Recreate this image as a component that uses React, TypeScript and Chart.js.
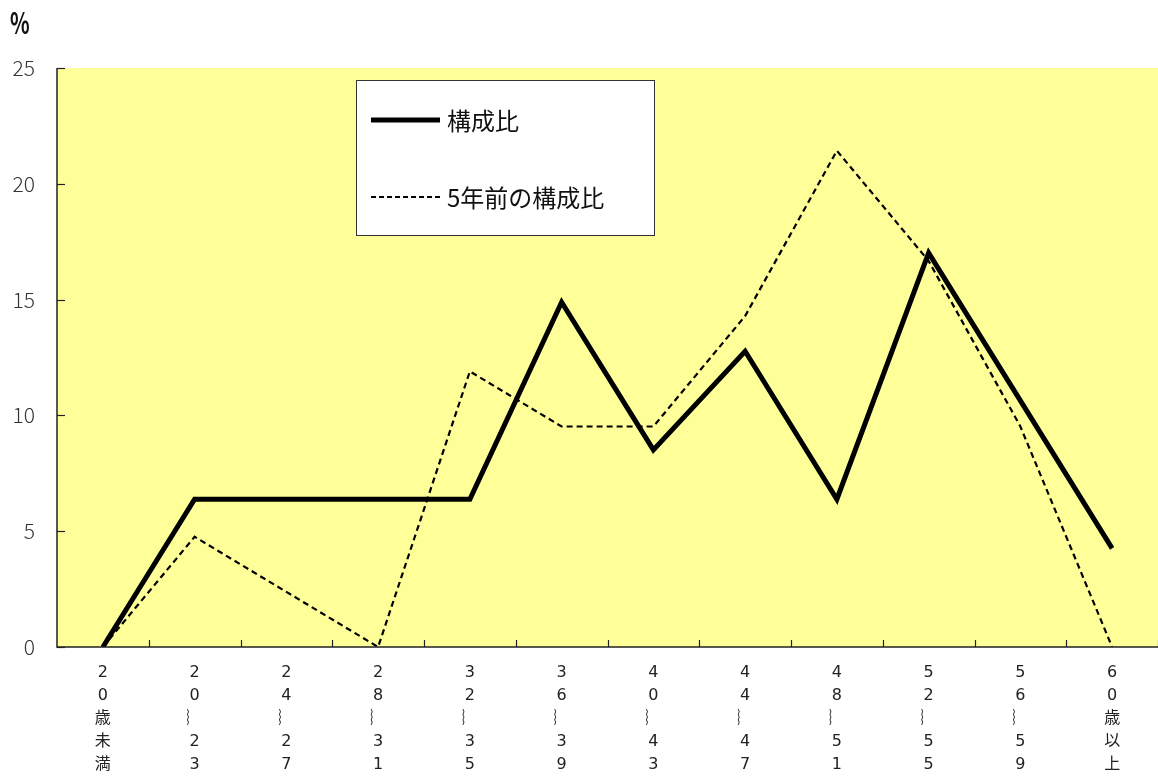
import React, { useEffect, useRef } from "react";
import { Chart, registerables } from "chart.js";

Chart.register(...registerables);

const W = "︴";
const categories: string[][] = [
  ["2", "0", "歳", "未", "満"],
  ["2", "0", W, "2", "3"],
  ["2", "4", W, "2", "7"],
  ["2", "8", W, "3", "1"],
  ["3", "2", W, "3", "5"],
  ["3", "6", W, "3", "9"],
  ["4", "0", W, "4", "3"],
  ["4", "4", W, "4", "7"],
  ["4", "8", W, "5", "1"],
  ["5", "2", W, "5", "5"],
  ["5", "6", W, "5", "9"],
  ["6", "0", "歳", "以", "上"],
];

const currentShare: number[] = [0, 6.38, 6.38, 6.38, 6.38, 14.89, 8.51, 12.77, 6.38, 17.02, 10.64, 4.26];
const previousShare: number[] = [0, 4.76, 2.38, 0, 11.9, 9.52, 9.52, 14.29, 21.43, 16.67, 9.52, 0];

const seriesLabels = ["構成比", "5年前の構成比"];
const yTicks = [0, 5, 10, 15, 20, 25];
const unitLabel = "%";

const FONT = "'Noto Sans CJK JP', 'DejaVu Sans', sans-serif";
const XFONT = "'DejaVu Sans', 'Noto Sans CJK JP', sans-serif";

const decorPlugin = {
  id: "decor",
  beforeDraw(chart: any) {
    const { ctx, chartArea } = chart;
    ctx.save();
    ctx.fillStyle = "#FFFF99";
    ctx.fillRect(chartArea.left, chartArea.top, chartArea.right - chartArea.left, chartArea.bottom - chartArea.top);
    ctx.restore();
  },
  afterDatasetsDraw(chart: any) {
    const { ctx, chartArea, scales } = chart;
    const x = scales.x;
    const y = scales.y;
    ctx.save();
    ctx.strokeStyle = "#222";
    ctx.lineWidth = 1.5;
    ctx.beginPath();
    ctx.moveTo(chartArea.left, chartArea.top);
    ctx.lineTo(chartArea.left, chartArea.bottom);
    ctx.lineTo(chartArea.right + 2, chartArea.bottom);
    ctx.stroke();
    ctx.lineWidth = 1.2;
    yTicks.forEach((v) => {
      const py = Math.round(y.getPixelForValue(v)) + 0.5;
      ctx.beginPath();
      ctx.moveTo(chartArea.left, py);
      ctx.lineTo(chartArea.left + 8, py);
      ctx.stroke();
    });
    const n = categories.length;
    const step = x.getPixelForValue(1) - x.getPixelForValue(0);
    for (let i = 1; i <= n; i++) {
      const px = Math.round(x.getPixelForValue(i - 1) + step / 2) + 0.5;
      ctx.beginPath();
      ctx.moveTo(px, chartArea.bottom);
      ctx.lineTo(px, chartArea.bottom - 7);
      ctx.stroke();
    }
    ctx.restore();
  },
  afterDraw(chart: any) {
    const { ctx } = chart;
    ctx.save();
    ctx.fillStyle = "#111";
    ctx.font = `bold 30px ${FONT}`;
    ctx.textBaseline = "middle";
    ctx.textAlign = "left";
    ctx.translate(10, 23);
    ctx.scale(0.68, 1);
    ctx.fillText(unitLabel, 0, 0);
    ctx.restore();

    ctx.save();
    const bx = 356.5, by = 80.5, bw = 298, bh = 155;
    ctx.fillStyle = "#FFFFFF";
    ctx.fillRect(bx, by, bw, bh);
    ctx.strokeStyle = "#333";
    ctx.lineWidth = 1;
    ctx.strokeRect(bx, by, bw, bh);
    const ds = chart.data.datasets;
    const rows = [120, 197];
    ds.forEach((d: any, i: number) => {
      const ry = rows[i];
      ctx.strokeStyle = "#000";
      ctx.lineWidth = i === 0 ? 5 : 2;
      ctx.setLineDash(i === 0 ? [] : [5, 3]);
      ctx.beginPath();
      ctx.moveTo(371, ry);
      ctx.lineTo(440, ry);
      ctx.stroke();
      ctx.setLineDash([]);
      ctx.fillStyle = "#111";
      ctx.font = `400 24px ${FONT}`;
      ctx.textBaseline = "middle";
      ctx.fillText(d.label, 447, ry + 1);
    });
    ctx.restore();
  },
};

export default function App() {
  const ref = useRef<HTMLCanvasElement | null>(null);
  useEffect(() => {
    if (!ref.current) return;
    const chart = new Chart(ref.current, {
      type: "line",
      data: {
        labels: categories,
        datasets: [
          {
            label: seriesLabels[0],
            data: currentShare,
            borderColor: "#000",
            borderWidth: 5,
            pointRadius: 0,
            tension: 0,
            fill: false,
          },
          {
            label: seriesLabels[1],
            data: previousShare,
            borderColor: "#000",
            borderWidth: 2.2,
            borderDash: [6, 4],
            pointRadius: 0,
            tension: 0,
            fill: false,
          },
        ],
      },
      options: {
        animation: false,
        responsive: true,
        maintainAspectRatio: false,
        layout: { padding: { top: 68, left: 0, right: 0, bottom: 0 } },
        plugins: { legend: { display: false }, tooltip: { enabled: false }, title: { display: false } },
        scales: {
          x: {
            type: "category",
            offset: true,
            grid: { display: false, drawTicks: false },
            border: { display: false },
            ticks: {
              padding: 14,
              color: "#222",
              font: { family: XFONT, size: 16, lineHeight: 1.44 },
              autoSkip: false,
              maxRotation: 0,
              minRotation: 0,
            },
            afterFit(scale: any) {
              scale.height = 137;
            },
          },
          y: {
            min: 0,
            max: 25,
            grid: { display: false, drawTicks: false },
            border: { display: false },
            afterBuildTicks(scale: any) {
              scale.ticks = yTicks.map((v) => ({ value: v }));
            },
            ticks: {
              padding: 22,
              color: "#333",
              font: { family: FONT, size: 21, weight: "300" },
            },
            afterFit(scale: any) {
              scale.width = 57;
            },
          },
        },
      },
      plugins: [decorPlugin],
    });
    return () => chart.destroy();
  }, []);
  return (
    <div style={{ position: "absolute", left: 0, top: 0, width: 1158, height: 784, background: "#fff" }}>
      <canvas ref={ref} />
    </div>
  );
}
